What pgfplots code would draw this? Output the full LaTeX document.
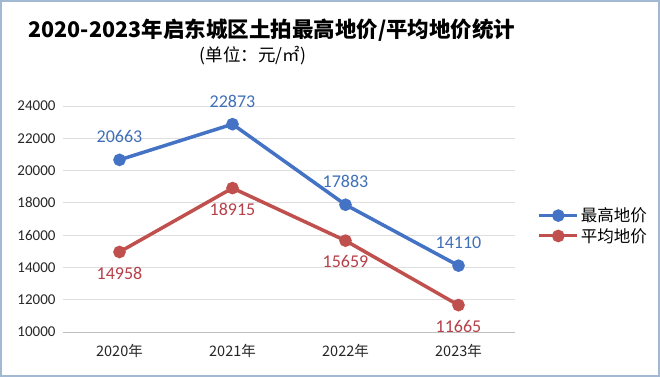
\documentclass[border=0pt]{standalone}
\usepackage{pgfplots}
\pgfplotsset{compat=1.18}
\usepackage{fontspec}
\setmainfont{Carlito}
\newfontfamily\cjk{Noto Sans CJK SC}
\definecolor{bl}{HTML}{4472C4}
\definecolor{rd}{HTML}{C0504D}
\definecolor{bltxt}{HTML}{3F6FB8}
\definecolor{rdtxt}{HTML}{B5404A}
\definecolor{framec}{HTML}{A3B8D3}
\begin{document}
\begin{tikzpicture}
\begin{axis}[
  scale only axis, width=452bp, height=226bp,
  xmin=-0.5, xmax=3.5, ymin=10000, ymax=24000,
  xtick={0,1,2,3},
  xticklabels={2020年,2021年,2022年,2023年},
  x tick label style={font=\cjk\fontsize{14.5bp}{16bp}\selectfont, text=black!85, yshift=-9bp},
  xtick style={draw=none},
  extra x ticks={-0.5,0.5,1.5,2.5,3.5},
  extra x tick labels={},
  extra x tick style={tick align=outside, major tick length=6bp, grid=none, tick style={draw=black!25, line width=0.8bp}},
  ytick={10000,12000,...,24000},
  scaled y ticks=false,
  ytick style={draw=none},
  y tick label style={font=\fontsize{15bp}{17bp}\selectfont, text=black!85, xshift=-4bp},
  /pgf/number format/1000 sep={},
  /pgf/number format/assume math mode=true,
  ymajorgrids, grid style={draw=black!13, line width=0.8bp},
  axis x line*=bottom, axis y line*=left,
  x axis line style={draw=black!25, line width=0.8bp},
  y axis line style={draw=none},
  legend style={at={(1.05,0.47)}, anchor=west, draw=none, fill=none,
     font=\cjk\fontsize{16.5bp}{18bp}\selectfont, row sep=1bp, inner sep=0pt},
  legend cell align=left,
  legend image code/.code={\draw[#1, line width=3bp] (0bp,0bp) -- (38bp,0bp); \fill[#1] (19bp,0bp) circle (4.5bp);},
  clip=false,
]
\addplot[bl, line width=3.5bp, mark=*, mark size=4.5bp,
  nodes near coords, point meta=explicit symbolic,
  every node near coord/.style={anchor=center, yshift=23bp, text=bltxt, font=\fontsize{18bp}{20bp}\selectfont}]
  coordinates {(0,20663)[20663] (1,22873)[22873] (2,17883)[17883] (3,14110)[14110]};
\addlegendentry{最高地价}
\addplot[rd, line width=3.5bp, mark=*, mark size=4.5bp,
  nodes near coords, point meta=explicit symbolic,
  every node near coord/.style={anchor=center, yshift=-21bp, text=rdtxt, font=\fontsize{18bp}{20bp}\selectfont}]
  coordinates {(0,14958)[14958] (1,18915)[18915] (2,15659)[15659] (3,11665)[11665]};
\addlegendentry{平均地价}
\end{axis}
\node[font=\cjk\bfseries\fontsize{21.5bp}{23bp}\selectfont] at (209bp,302bp) {2020-2023年启东城区土拍最高地价/平均地价统计};
\node[font=\cjk\fontsize{17.5bp}{19bp}\selectfont] at (190bp,276bp) {(单位：元/㎡)};
\draw[framec, line width=2bp] (-62bp,-44bp) rectangle (596bp,331bp);
\end{tikzpicture}
\end{document}
